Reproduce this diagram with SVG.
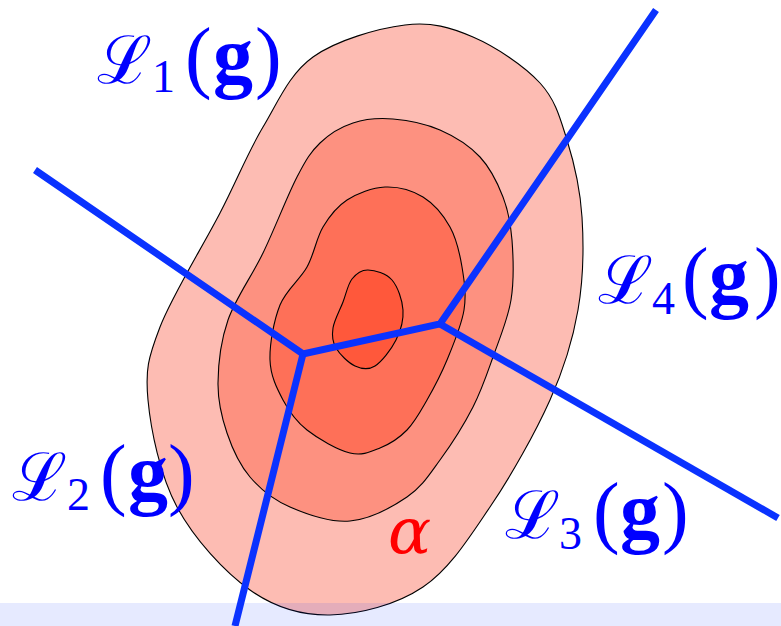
<svg xmlns="http://www.w3.org/2000/svg" width="781" height="626" viewBox="0 0 781 626">
<style>
.c{stroke:#000;stroke-width:1.1}
.l{fill:none;stroke:#0a32ff;stroke-width:7;stroke-linejoin:miter;stroke-linecap:butt}
.t{fill:#0000ff;font-family:"Liberation Serif",serif;font-size:80px}
.cal{font-family:"DejaVu Serif","Noto Sans",serif;font-style:italic;font-size:66px}
.s{font-size:46px}
.g{font-weight:bold}
</style>
<rect width="781" height="626" fill="#fff"/>
<g id="density">
<path class="c" fill="#fdbcb3" d="M405,25 C431.7,21.7 450.5,27.3 473,37 C495.5,46.7 524.3,65.8 540,83 C555.7,100.2 560,117.7 567,140 C574,162.3 580.2,188.7 582,217 C583.8,245.3 583.3,279.5 578,310 C572.7,340.5 564.7,367.2 550,400 C535.3,432.8 511.2,475.8 490,507 C468.8,538.2 449.7,569 423,587 C396.3,605 358.8,614.5 330,615 C301.2,615.5 275.5,608 250,590 C224.5,572 194,538.7 177,507 C160,475.3 150.8,430 148,400 C145.2,370 148,358.2 160,327 C172,295.8 202.8,246.3 220,213 C237.2,179.7 247.5,153 263,127 C278.5,101 289.3,74 313,57 C336.7,40 378.3,28.3 405,25 Z"/>
<path class="c" fill="#fd9180" d="M393,119 C407.5,120.2 425.5,123.7 440,130 C454.5,136.3 469.5,145.8 480,157 C490.5,168.2 497.7,183.2 503,197 C508.3,210.8 510.7,222.8 512,240 C513.3,257.2 514.2,280.5 511,300 C507.8,319.5 499.3,339.2 493,357 C486.7,374.8 481.8,389.8 473,407 C464.2,424.2 451,445 440,460 C429,475 422,486.8 407,497 C392,507.2 369.5,519.3 350,521 C330.5,522.7 306.7,514.3 290,507 C273.3,499.7 260.5,489.3 250,477 C239.5,464.7 232.3,448.7 227,433 C221.7,417.3 217.8,401.8 218,383 C218.2,364.2 220.5,341.7 228,320 C235.5,298.3 251.5,276.8 263,253 C274.5,229.2 287.5,195.3 297,177 C306.5,158.7 310.7,152 320,143 C329.3,134 340.8,127 353,123 C365.2,119 378.5,117.8 393,119 Z"/>
<path class="c" fill="#fe7058" d="M385,187 C397.7,186.5 412.2,190.3 423,197 C433.8,203.7 443.5,215.3 450,227 C456.5,238.7 459.7,253.2 462,267 C464.3,280.8 466.5,294.5 464,310 C461.5,325.5 453.2,345 447,360 C440.8,375 433.7,388.3 427,400 C420.3,411.7 414.8,422 407,430 C399.2,438 389.5,444.2 380,448 C370.5,451.8 362.2,456 350,453 C337.8,450 318.2,438.8 307,430 C295.8,421.2 289.2,411.7 283,400 C276.8,388.3 270.5,375.8 270,360 C269.5,344.2 273.8,320.5 280,305 C286.2,289.5 299.8,280 307,267 C314.2,254 316.3,238.2 323,227 C329.7,215.8 336.7,206.7 347,200 C357.3,193.3 372.3,187.5 385,187 Z"/>
<path class="c" fill="#ff583b" d="M368,270 C374.7,270.2 386.2,273.3 392,280 C397.8,286.7 402.3,300 403,310 C403.7,320 400.7,330.7 396,340 C391.3,349.3 381.8,361.7 375,366 C368.2,370.3 361.5,369 355,366 C348.5,363 339.7,354.3 336,348 C332.3,341.7 331.8,335.7 333,328 C334.2,320.3 339.8,310.2 343,302 C346.2,293.8 347.8,284.3 352,279 C356.2,273.7 361.3,269.8 368,270 Z"/>
</g>
<rect id="band" x="0" y="603" width="781" height="23" fill="#0a32ff" fill-opacity="0.1"/>
<g id="connectors">
<path class="l" d="M35,170 L303,354 L440,324 L656,10"/>
<path class="l" d="M303,354 L235,626"/>
<path class="l" d="M440,324 L778,518"/>
</g>
<g id="label-L1">
<text class="t"><tspan class="cal" x="97" y="83">ℒ</tspan><tspan class="s" x="152" y="92">1</tspan><tspan x="185" y="83">(</tspan><tspan class="g" x="213" y="83">g</tspan><tspan x="255" y="83">)</tspan></text>
</g>
<g id="label-L2">
<text class="t"><tspan class="cal" x="12" y="500">ℒ</tspan><tspan class="s" x="67" y="510">2</tspan><tspan x="100" y="500">(</tspan><tspan class="g" x="128" y="500">g</tspan><tspan x="168" y="500">)</tspan></text>
</g>
<g id="label-L3">
<text class="t"><tspan class="cal" x="505" y="538">ℒ</tspan><tspan class="s" x="559" y="549">3</tspan><tspan x="593" y="538">(</tspan><tspan class="g" x="620" y="538">g</tspan><tspan x="662" y="538">)</tspan></text>
</g>
<g id="label-L4">
<text class="t"><tspan class="cal" x="598" y="303">ℒ</tspan><tspan class="s" x="652" y="314">4</tspan><tspan x="682" y="303">(</tspan><tspan class="g" x="709" y="303">g</tspan><tspan x="754" y="303">)</tspan></text>
</g>
<g id="label-alpha">
<text x="388" y="553" fill="#ff0000" font-family="'DejaVu Serif',serif" font-style="italic" font-size="64">α</text>
</g>
</svg>
